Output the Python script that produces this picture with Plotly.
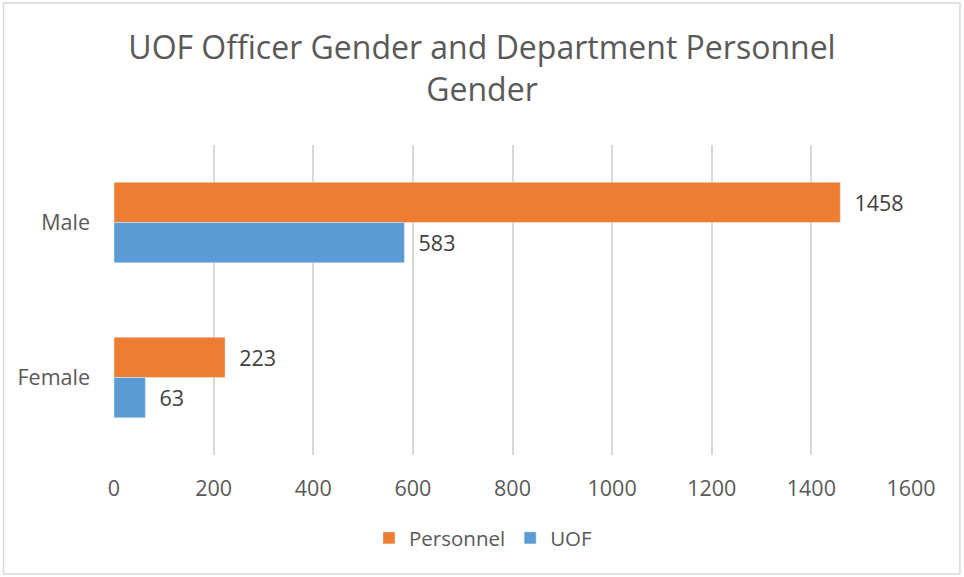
import plotly.graph_objects as go

categories = ["Male", "Female"]
personnel = [1458, 223]
uof = [583, 63]
series_names = ["Personnel", "UOF"]
x_ticks = [0, 200, 400, 600, 800, 1000, 1200, 1400, 1600]

FONT = "Open Sans"
LBL = 21.5
fig = go.Figure()
fig.add_trace(go.Bar(y=categories, x=personnel, name=series_names[0], orientation="h",
                     marker=dict(color="#ED7D31"), text=personnel,
                     texttemplate="  %{x}", textposition="outside", cliponaxis=False,
                     textfont=dict(color="#404040", size=LBL, family=FONT)))
fig.add_trace(go.Bar(y=categories, x=uof, name=series_names[1], orientation="h",
                     marker=dict(color="#5B9BD5"), text=uof,
                     texttemplate="  %{x}", textposition="outside", cliponaxis=False,
                     textfont=dict(color="#404040", size=LBL, family=FONT)))

fig.update_layout(
    width=964, height=577,
    paper_bgcolor="white", plot_bgcolor="white",
    barmode="group", bargap=0.48, bargroupgap=0,
    margin=dict(l=113.5, r=53, t=145, b=122, autoexpand=False),
    font=dict(family=FONT, color="#595959", size=LBL),
    title=dict(text="UOF Officer Gender and Department Personnel<br>Gender",
               x=0.5, xanchor="center", yref="container", y=0.897, yanchor="middle",
               font=dict(size=32, color="#595959", family=FONT)),
    xaxis=dict(range=[0, 1600], tickvals=x_ticks, showgrid=True, gridcolor="#D9D9D9",
               gridwidth=1.5, zeroline=False, showline=False, ticklabelstandoff=18,
               tickfont=dict(size=LBL, color="#595959")),
    yaxis=dict(categoryorder="array", categoryarray=categories, autorange="reversed",
               showgrid=False, showline=False, ticklabelstandoff=23,
               tickfont=dict(size=LBL, color="#595959")),
    legend=dict(orientation="h", x=0.4636, xanchor="center", y=-0.268, yanchor="middle",
                font=dict(size=20.5, color="#595959"), traceorder="normal"),
    shapes=[dict(type="rect", xref="paper", yref="paper", x0=-0.1386, x1=1.0614,
                 y0=-0.3839, y1=1.458, line=dict(color="#D9D9D9", width=1.5))],
)
fig.write_html("out.html", config={"displayModeBar": False},
               post_script="document.body.style.margin='0';")
